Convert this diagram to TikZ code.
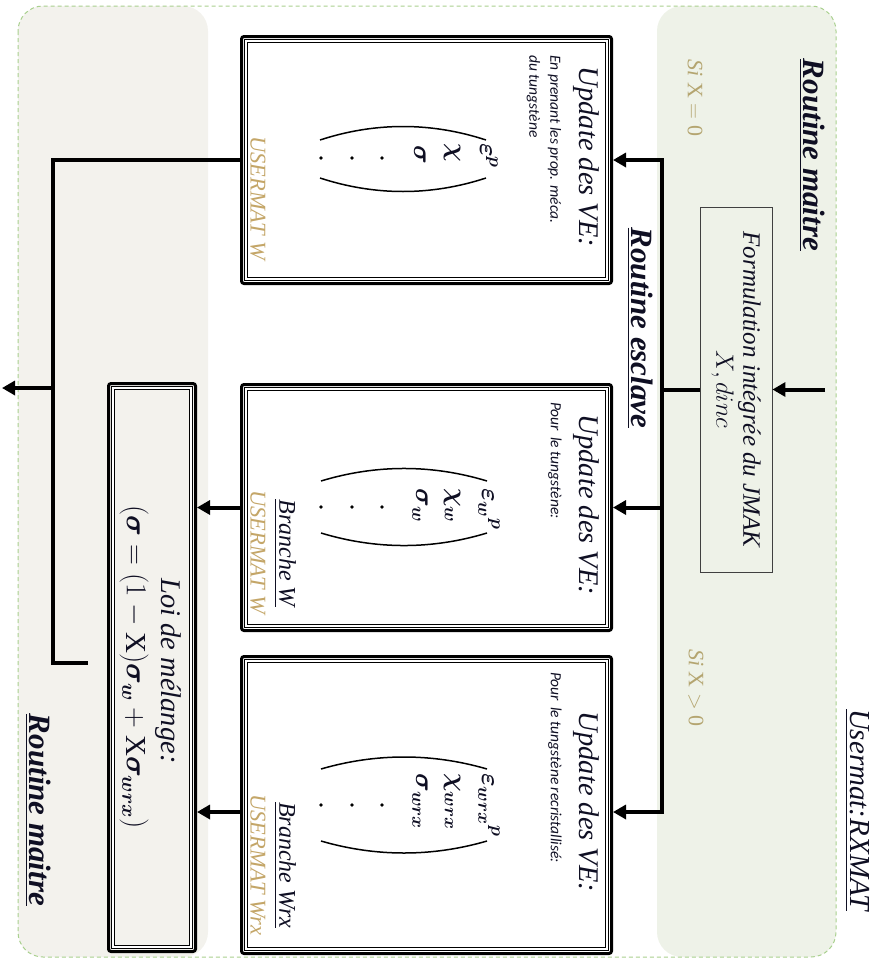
\RequirePackage{fix-cm}
\documentclass[tikz,border=0pt]{standalone}
\usepackage{amsmath,bm}
\usepackage{fontspec}
\setmainfont{Liberation Serif}
\newfontfamily\calib{Carlito}
\usetikzlibrary{arrows.meta,calc}

\definecolor{panelG}{RGB}{238,242,232}
\definecolor{panelB}{RGB}{243,242,237}
\definecolor{dashG}{RGB}{169,208,142}
\definecolor{tanc}{RGB}{196,166,104}
\definecolor{sixc}{RGB}{180,165,112}
\definecolor{ink}{RGB}{15,15,35}

\tikzset{
  rt/.style={rotate=-90, inner sep=0pt, text=ink},
  heading/.style={rt, font=\fontsize{31}{36}\selectfont\bfseries\itshape},
  uhead/.style={rt, font=\fontsize{29}{34}\selectfont\itshape},
  vetitle/.style={rt, font=\fontsize{28.5}{33}\selectfont\itshape},
  vesub/.style={rt, anchor=west, align=left, font=\fontsize{15.5}{21}\selectfont\calib\itshape},
  ent/.style={rt, anchor=west, font=\fontsize{26}{30}\selectfont},
  usm/.style={rt, text=tanc, font=\fontsize{22.5}{26}\selectfont\itshape},
  bra/.style={rt, font=\fontsize{24}{28}\selectfont\itshape},
  sixs/.style={rt, text=sixc, font=\fontsize{22}{26}\selectfont},
  vebox/.style={draw=black, line width=3pt, rounded corners=2.5pt, inner sep=0pt},
  innerdbl/.style={draw=black, line width=1.1pt, double=white, double distance=1.6pt},
  formbox/.style={rotate=-90, draw=black!75, line width=0.9pt, align=center,
      minimum width=365pt, minimum height=72pt, text=ink,
      font=\fontsize{25}{27}\selectfont\itshape},
  thick line/.style={line width=4pt, draw=black},
  arr/.style={thick line, -{Triangle[length=13pt,width=14pt]}},
  paren/.style={line width=1.5pt, draw=black},
  dot/.style={fill=black},
}

\begin{document}
\begin{tikzpicture}[x=1pt,y=-1pt]
\useasboundingbox (0,0) rectangle (873,959);

% background panels
\fill[panelB, rounded corners=25pt] (18,6) rectangle (208,957);
\fill[panelG, rounded corners=25pt] (657,6) rectangle (836,957);
\draw[dashG, line width=1pt, dash pattern=on 4pt off 3pt, rounded corners=25pt] (18,6) rectangle (836,957);

% headings
\node[heading] (rm1) at (812,155) {\underline{Routine maitre}};
\node[uhead] (usr) at (857,810) {\underline{Usermat:RXMAT}};
\node[heading] (res) at (640,328) {\underline{Routine esclave}};
\node[heading] (rm2) at (38,810) {\underline{Routine maitre}};
\node[sixs] (si0) at (695,98) {\textit{Si} X $=$ 0};
\node[sixs] (si1) at (696,688) {\textit{Si} X $>$ 0};

% formulation box
\node[formbox] (form) at (736,389.5) {Formulation intégrée du JMAK\\$X,dinc$};

% update boxes
\node[vebox, fill=white, minimum width=370pt, minimum height=247pt] (b1) at (426.5,160) {};
\node[vebox, fill=white, minimum width=370pt, minimum height=246pt] (b2) at (426.5,507.5) {};
\node[vebox, fill=white, minimum width=370pt, minimum height=297pt] (b3) at (426.5,805) {};
\node[vebox, minimum width=87pt, minimum height=568pt] (loi) at (152,667.5) {};
\foreach \b in {b1,b2,b3,loi}{
  \draw[innerdbl] ([shift={(6pt,-6pt)}]\b.north west) rectangle ([shift={(-6pt,6pt)}]\b.south east);
}

% box 1 content
\node[vetitle] (t1) at (586,157) {Update des VE:};
\node[vesub] (s1) at (544,55) {En prenant les prop. méca.\\du tungstène};
\node[ent] (e1a) at (489,143) {$\bm{\varepsilon}^{\bm{p}}$};
\node[ent] (e1b) at (452,143) {$\bm{\chi}$};
\node[ent] (e1c) at (420,145) {$\bm{\sigma}$};
\fill[dot] (382,158) circle (1.8pt) (352,158) circle (1.8pt) (321,158) circle (1.8pt);
\draw[paren] (486,140) .. controls (431,122) and (375,122) .. (320,140);
\draw[paren] (486,178) .. controls (431,196) and (375,196) .. (320,178);
\node[usm] (u1) at (258,198) {USERMAT W};

% box 2 content
\node[vetitle] (t2) at (586,505) {Update des VE:};
\node[vesub] (s2) at (555,402) {Pour\, le tungstène:};
\node[ent] (e2a) at (489,488) {$\bm{\varepsilon}_{\bm{w}}{}^{\bm{p}}$};
\node[ent] (e2b) at (452,488) {$\bm{\chi}_{\bm{w}}$};
\node[ent] (e2c) at (420,488) {$\bm{\sigma}_{\bm{w}}$};
\fill[dot] (382,507) circle (1.8pt) (352,507) circle (1.8pt) (321,507) circle (1.8pt);
\draw[paren] (487,481) .. controls (432,464.3) and (376,464.3) .. (321,481);
\draw[paren] (487,533) .. controls (432,549.7) and (376,549.7) .. (321,533);
\node[bra] (br2) at (285,553) {\underline{Branche W}};
\node[usm] (u2) at (258,552) {USERMAT W};

% box 3 content
\node[vetitle] (t3) at (586,802) {Update des VE:};
\node[vesub] (s3) at (555,672) {Pour\, le tungstène recristallisé:};
\node[ent] (e3a) at (489,773) {$\bm{\varepsilon}_{\bm{wrx}}{}^{\bm{p}}$};
\node[ent] (e3b) at (452,773) {$\bm{\chi}_{\bm{wrx}}$};
\node[ent] (e3c) at (420,773) {$\bm{\sigma}_{\bm{wrx}}$};
\fill[dot] (382,805) circle (1.8pt) (352,805) circle (1.8pt) (321,805) circle (1.8pt);
\draw[paren] (487,769) .. controls (432,753) and (376,753) .. (321,769);
\draw[paren] (487,841) .. controls (432,857) and (376,857) .. (321,841);
\node[bra] (br3) at (285,865) {\underline{Branche Wrx}};
\node[usm] (u3) at (258,865) {USERMAT Wrx};

% loi de melange
\node[vetitle] (lt) at (168,671) {Loi de mélange:};
\node[rt, font=\fontsize{29}{33}\selectfont] (lf) at (134,667)
  {$(\bm{\sigma}=(1-\mathrm{X})\bm{\sigma}_{\bm{w}}+\mathrm{X}\bm{\sigma}_{\bm{wrx}})$};

% connectors
\coordinate (inp) at (825,389.5);
\coordinate (bt) at (662,160);
\coordinate (c2) at (662,507.5);
\coordinate (bb) at (662,812);
\coordinate (o1) at (53,160);
\coordinate (o2) at (53,663);
\coordinate (o3) at (88,663);
\coordinate (oa) at (53,388);
\coordinate (oe) at (2,388);

\draw[arr] (inp) -- (form.north);
\draw[thick line] (form.south) -- (form.south -| bt);
\draw[thick line, line cap=rect] (bt) -- (bb);
\draw[arr] (bt) -- (b1.east);
\draw[arr] (c2) -- (b2.east);
\draw[arr] (bb) -- (bb -| b3.east);
\draw[arr] (b2.west) -- (b2.west -| loi.east);
\draw[arr] (b3.west |- bb) -- (loi.east |- bb);
\draw[thick line] (b1.west) -- (o1) -- (o2) -- (o3);
\draw[arr] (oa) -- (oe);
\end{tikzpicture}
\end{document}
